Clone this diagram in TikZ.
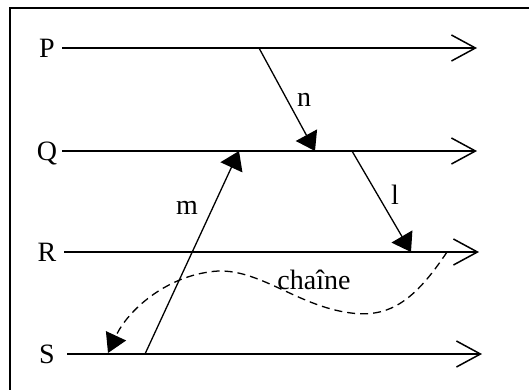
\documentclass[tikz,border=0pt]{standalone}
\usepackage{fontspec}
\setmainfont{Liberation Serif}
\usetikzlibrary{arrows.meta}

\begin{document}
\begin{tikzpicture}[x=1pt,y=-1pt,line width=1.5pt,
  proc/.style={-{Straight Barb[length=24pt,width=26pt]}},
  msg/.style={-{Triangle[length=18pt,width=24pt]},line width=1.3pt},
  chn/.style={-{Triangle[length=19pt,width=22pt]},line width=1.3pt,dash pattern=on 8pt off 5pt},
  lbl/.style={anchor=base,inner sep=0pt,font=\fontsize{28}{34}\selectfont}]
\useasboundingbox (0,0) rectangle (529,389);
\draw (10,8) rectangle (540,400);
% process lines
\foreach \p/\y/\xs/\xe in {P/48/62/477,Q/151/62/477,R/252/64/479,S/354/67/482} {
   \node[lbl] (\p) at (47,\y+9) {\p};
   \coordinate (\p0) at (\xs,\y);
   \coordinate (\p1) at (\xe,\y);
   \draw[proc] (\p0) -- (\p1);
}
% message ends
\coordinate (nS) at (259,48);  \coordinate (nE) at (315,151);
\coordinate (mS) at (145,354); \coordinate (mE) at (239,151);
\coordinate (lS) at (352,151); \coordinate (lE) at (411,252);
\coordinate (cS) at (447,252); \coordinate (cE) at (108,353);
\draw[msg] (nS) -- (nE);
\draw[msg] (mS) -- (mE);
\draw[msg] (lS) -- (lE);
\draw[chn] (cS) .. controls (415,300) and (390,318) .. (351,313)
   .. controls (295,306) and (255,264) .. (209,272)
   .. controls (165,278) and (128,310) .. (cE);
\node[lbl] (n) at (304,106) {n};
\node[lbl] (m) at (187,214) {m};
\node[lbl] (l) at (395,204) {l};
\node[lbl] (chaine) at (314,289) {chaîne};
\end{tikzpicture}
\end{document}
